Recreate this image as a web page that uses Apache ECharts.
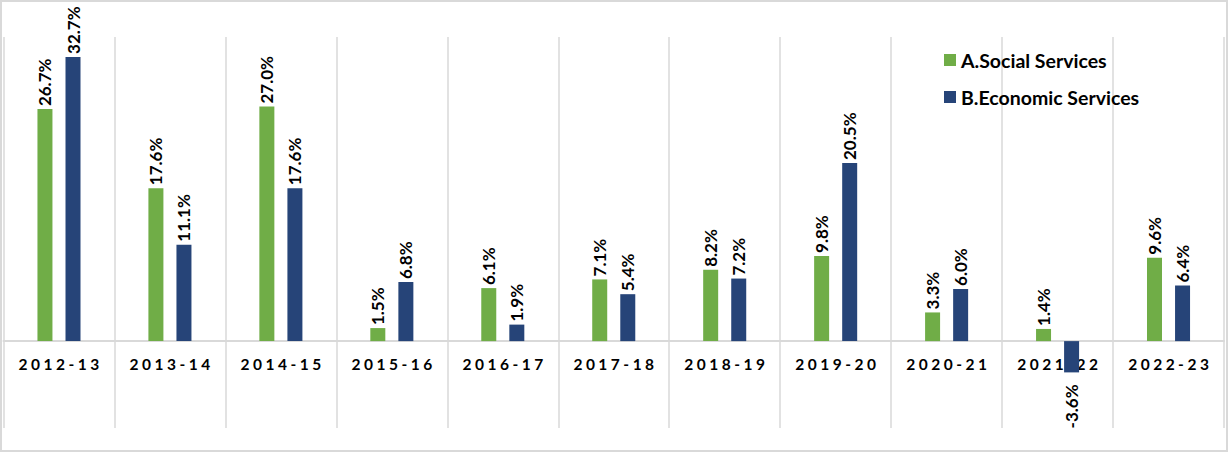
<!DOCTYPE html>
<html>
<head>
<meta charset="utf-8">
<script src="https://cdn.jsdelivr.net/npm/echarts@6/dist/echarts.min.js"></script>
<style>
html,body{margin:0;padding:0;background:#fff;}
#chart{width:1228px;height:452px;}
</style>
</head>
<body>
<div id="chart"></div>
<script>
const categories = ['2012-13','2013-14','2014-15','2015-16','2016-17','2017-18','2018-19','2019-20','2020-21','2021-22','2022-23'];
const socialServices = [26.7, 17.6, 27.0, 1.5, 6.1, 7.1, 8.2, 9.8, 3.3, 1.4, 9.6];
const economicServices = [32.7, 11.1, 17.6, 6.8, 1.9, 5.4, 7.2, 20.5, 6.0, -3.6, 6.4];
const seriesNames = ['A.Social Services', 'B.Economic Services'];

const FONT = 'Lato, "Noto Sans", sans-serif';

function toData(arr) {
  return arr.map(v => v < 0
    ? { value: v, label: { position: 'bottom', align: 'right', distance: 12 } }
    : v);
}

const labelStyle = {
  show: true,
  position: 'top',
  rotate: 90,
  align: 'left',
  verticalAlign: 'middle',
  distance: 3,
  fontFamily: FONT,
  fontWeight: 'bold',
  fontSize: 17,
  color: '#000',
  formatter: p => p.value.toFixed(1) + '%'
};

const chart = echarts.init(document.getElementById('chart'), null, { renderer: 'svg' });
chart.setOption({
  animation: false,
  backgroundColor: '#fff',
  graphic: [{
    type: 'rect',
    shape: { x: 1, y: 1, width: 1226, height: 450 },
    style: { fill: 'none', stroke: '#d9d9d9', lineWidth: 2 },
    silent: true
  }],
  legend: {
    orient: 'vertical',
    left: 944,
    top: 50,
    padding: 0,
    itemWidth: 12,
    itemHeight: 12,
    itemGap: 17,
    icon: 'rect',
    textStyle: { fontFamily: FONT, fontWeight: 'bold', fontSize: 19.5, color: '#000', padding: [0, 0, 0, 0] },
    data: seriesNames
  },
  grid: { left: 3.5, right: 4, top: 37, bottom: 24, containLabel: false, outerBoundsMode: 'none' },
  xAxis: {
    type: 'category',
    data: categories,
    boundaryGap: true,
    axisLine: { show: true, onZero: true, lineStyle: { color: '#d9d9d9', width: 2 } },
    axisTick: { show: false },
    splitLine: { show: true, lineStyle: { color: '#d9d9d9', width: 1.5 } },
    axisLabel: {
      margin: -72,
      fontFamily: FONT,
      fontWeight: 'bold',
      fontSize: 15.5,
      color: '#000'
    }
  },
  yAxis: {
    type: 'value',
    min: -10,
    max: 35,
    interval: 5,
    show: false,
    splitLine: { show: false }
  },
  series: [
    {
      name: seriesNames[0],
      type: 'bar',
      barWidth: 15,
      barGap: '87%',
      itemStyle: { color: '#70AD47' },
      label: labelStyle,
      data: toData(socialServices)
    },
    {
      name: seriesNames[1],
      type: 'bar',
      barWidth: 15,
      barGap: '87%',
      itemStyle: { color: '#264478' },
      label: labelStyle,
      data: toData(economicServices)
    }
  ]
});

function spaceLabels() {
  const texts = document.querySelectorAll('#chart text');
  texts.forEach(t => {
    if (/^\d{4}-\d{2}$/.test(t.textContent.trim())) {
      t.setAttribute('letter-spacing', '3.5');
      t.setAttribute('dx', '1.75');
    }
  });
}
chart.on('finished', spaceLabels);
spaceLabels();
setTimeout(spaceLabels, 50);
</script>
</body>
</html>
